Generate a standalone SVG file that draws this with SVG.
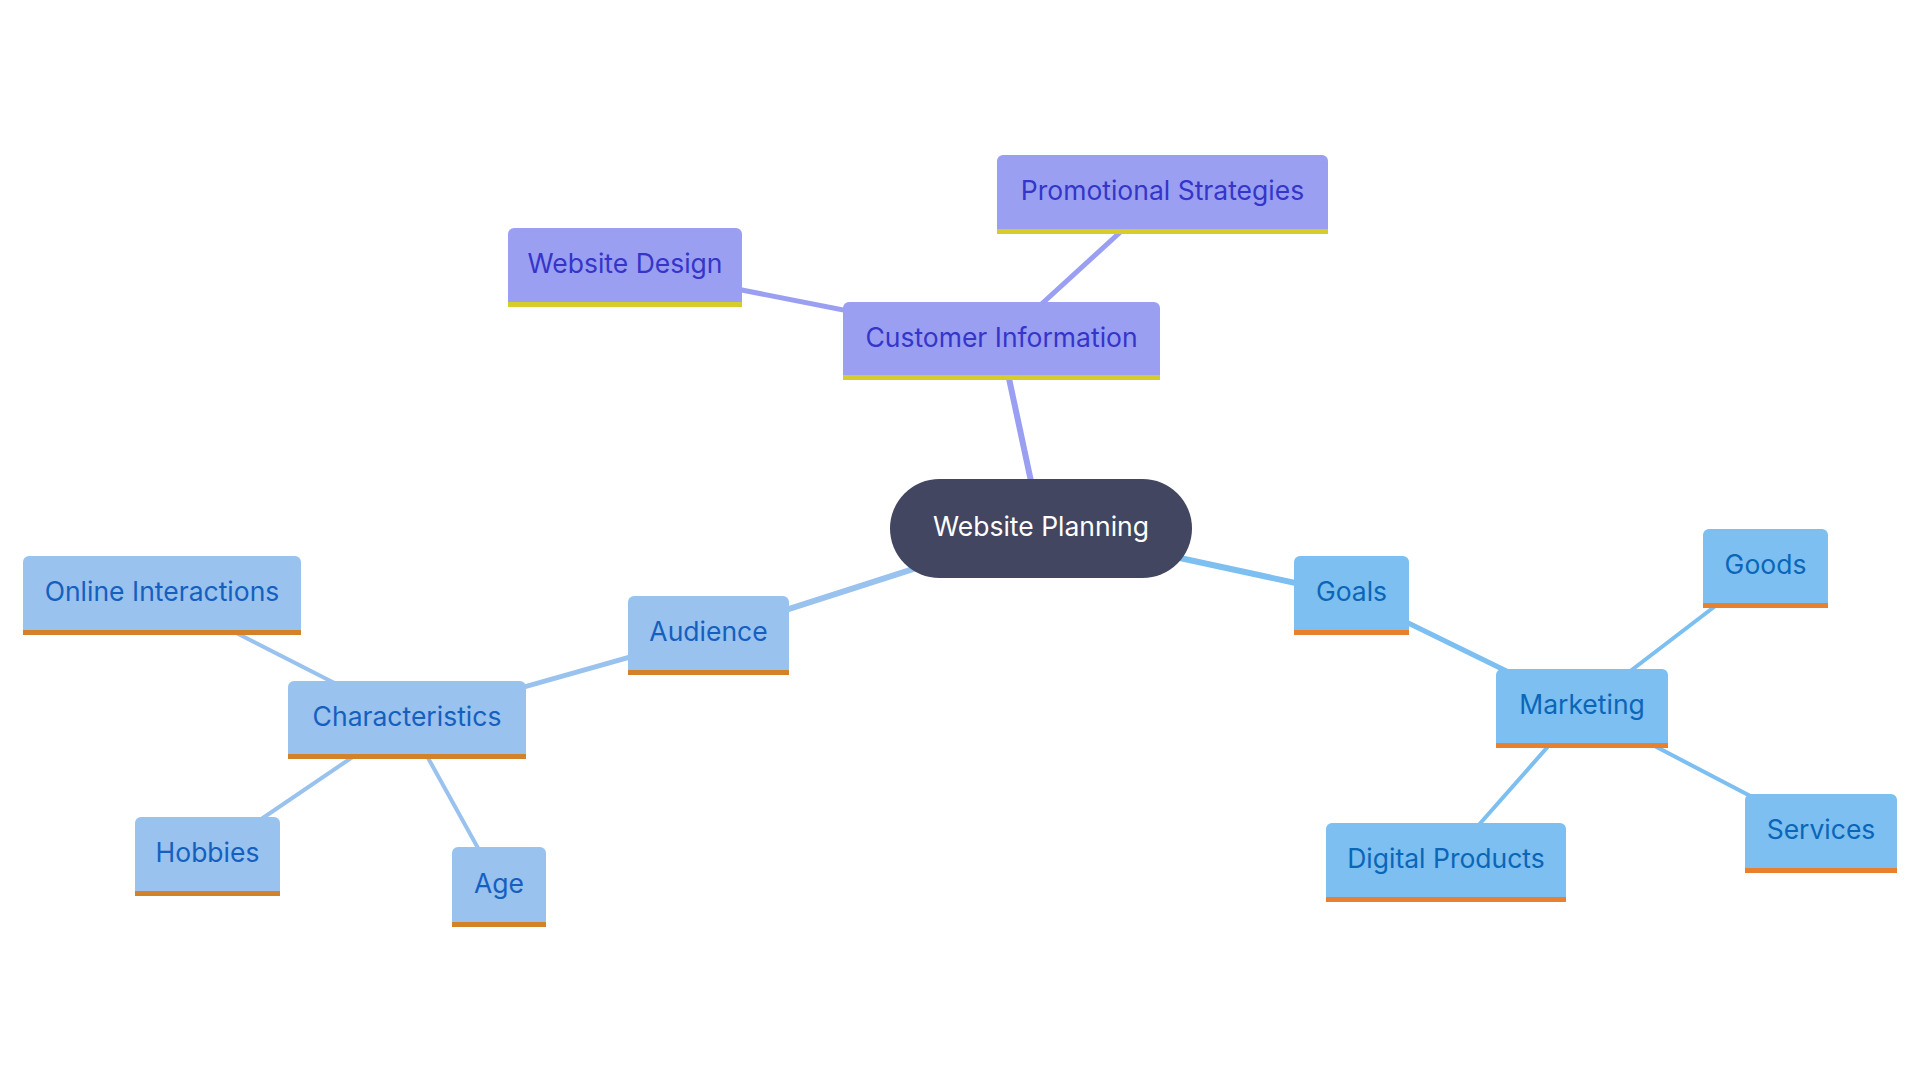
<svg xmlns="http://www.w3.org/2000/svg" width="1920" height="1080" viewBox="0 0 1920 1080">
<style>
text{font-family:Inter,"Noto Sans",sans-serif;font-size:26.5px;text-anchor:middle}
.e{fill:none;stroke-linecap:round}
.d1{stroke-width:6}.d2{stroke-width:5}.d3{stroke-width:4}
.pE{stroke:#9a9ff2}.aE{stroke:#99c2ee}.gE{stroke:#7cbff0}
.p .b{fill:#9a9ff2}.p .u{fill:#d6cd2c}.p text{fill:#3535c9}
.a .b{fill:#99c2ee}.a .u{fill:#d4822a}.a text{fill:#1560bf}
.g .b{fill:#7cbff0}.g .u{fill:#e8802e}.g text{fill:#0b66b8}
</style>
<rect width="1920" height="1080" fill="#ffffff"/>
<g id="connectors">
<line class="e d1 pE" x1="1041" y1="528" x2="1001" y2="341"/>
<line class="e d2 pE" x1="1001" y1="341" x2="625" y2="267"/>
<line class="e d2 pE" x1="1001" y1="341" x2="1162" y2="194"/>
<line class="e d1 aE" x1="1041" y1="528" x2="708" y2="635"/>
<line class="e d2 aE" x1="708" y1="635" x2="407" y2="720"/>
<line class="e d3 aE" x1="407" y1="720" x2="162" y2="595"/>
<line class="e d3 aE" x1="407" y1="720" x2="207" y2="856"/>
<line class="e d3 aE" x1="407" y1="720" x2="499" y2="886"/>
<line class="e d1 gE" x1="1041" y1="528" x2="1351" y2="595"/>
<line class="e d2 gE" x1="1351" y1="595" x2="1582" y2="708"/>
<line class="e d3 gE" x1="1582" y1="708" x2="1765" y2="568"/>
<line class="e d3 gE" x1="1582" y1="708" x2="1821" y2="833"/>
<line class="e d3 gE" x1="1582" y1="708" x2="1446" y2="862"/>
</g>
<g id="n-root">
<rect x="890" y="479" width="302" height="99" rx="49.5" fill="#424660"/>
<text x="1041" y="536" fill="#ffffff">Website Planning</text>
</g>
<g id="n-customer" class="p">
<path class="b" d="M843,380V308a6,6 0 0 1 6,-6H1154a6,6 0 0 1 6,6V380Z"/>
<rect class="u" x="843" y="375" width="317" height="5"/>
<text x="1001.5" y="347">Customer Information</text>
</g>
<g id="n-promo" class="p">
<path class="b" d="M997,234V161a6,6 0 0 1 6,-6H1322a6,6 0 0 1 6,6V234Z"/>
<rect class="u" x="997" y="229" width="331" height="5"/>
<text x="1162.5" y="200">Promotional Strategies</text>
</g>
<g id="n-webdesign" class="p">
<path class="b" d="M508,307V234a6,6 0 0 1 6,-6H736a6,6 0 0 1 6,6V307Z"/>
<rect class="u" x="508" y="302" width="234" height="5"/>
<text x="625" y="273">Website Design</text>
</g>
<g id="n-audience" class="a">
<path class="b" d="M628,675V602a6,6 0 0 1 6,-6H783a6,6 0 0 1 6,6V675Z"/>
<rect class="u" x="628" y="670" width="161" height="5"/>
<text x="708.5" y="641">Audience</text>
</g>
<g id="n-characteristics" class="a">
<path class="b" d="M288,759V687a6,6 0 0 1 6,-6H520a6,6 0 0 1 6,6V759Z"/>
<rect class="u" x="288" y="754" width="238" height="5"/>
<text x="407" y="726">Characteristics</text>
</g>
<g id="n-online" class="a">
<path class="b" d="M23,635V562a6,6 0 0 1 6,-6H295a6,6 0 0 1 6,6V635Z"/>
<rect class="u" x="23" y="630" width="278" height="5"/>
<text x="162" y="601">Online Interactions</text>
</g>
<g id="n-hobbies" class="a">
<path class="b" d="M135,896V823a6,6 0 0 1 6,-6H274a6,6 0 0 1 6,6V896Z"/>
<rect class="u" x="135" y="891" width="145" height="5"/>
<text x="207.5" y="862">Hobbies</text>
</g>
<g id="n-age" class="a">
<path class="b" d="M452,927V853a6,6 0 0 1 6,-6H540a6,6 0 0 1 6,6V927Z"/>
<rect class="u" x="452" y="922" width="94" height="5"/>
<text x="499" y="893">Age</text>
</g>
<g id="n-goals" class="g">
<path class="b" d="M1294,635V562a6,6 0 0 1 6,-6H1403a6,6 0 0 1 6,6V635Z"/>
<rect class="u" x="1294" y="630" width="115" height="5"/>
<text x="1351.5" y="601">Goals</text>
</g>
<g id="n-marketing" class="g">
<path class="b" d="M1496,748V675a6,6 0 0 1 6,-6H1662a6,6 0 0 1 6,6V748Z"/>
<rect class="u" x="1496" y="743" width="172" height="5"/>
<text x="1582" y="714">Marketing</text>
</g>
<g id="n-goods" class="g">
<path class="b" d="M1703,608V535a6,6 0 0 1 6,-6H1822a6,6 0 0 1 6,6V608Z"/>
<rect class="u" x="1703" y="603" width="125" height="5"/>
<text x="1765.5" y="574">Goods</text>
</g>
<g id="n-services" class="g">
<path class="b" d="M1745,873V800a6,6 0 0 1 6,-6H1891a6,6 0 0 1 6,6V873Z"/>
<rect class="u" x="1745" y="868" width="152" height="5"/>
<text x="1821" y="839">Services</text>
</g>
<g id="n-digital" class="g">
<path class="b" d="M1326,902V829a6,6 0 0 1 6,-6H1560a6,6 0 0 1 6,6V902Z"/>
<rect class="u" x="1326" y="897" width="240" height="5"/>
<text x="1446" y="868">Digital Products</text>
</g>
</svg>
